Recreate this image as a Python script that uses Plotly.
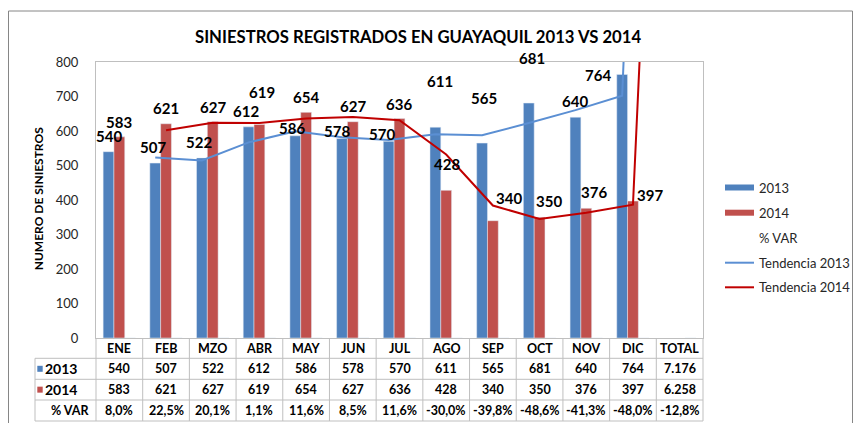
import plotly.graph_objects as go
import numpy as np

# ---------------- data ----------------
months = ["ENE", "FEB", "MZO", "ABR", "MAY", "JUN", "JUL", "AGO", "SEP", "OCT", "NOV", "DIC"]
total_label = "TOTAL"
v2013 = [540, 507, 522, 612, 586, 578, 570, 611, 565, 681, 640, 764]
v2014 = [583, 621, 627, 619, 654, 627, 636, 428, 340, 350, 376, 397]
total_2013 = 7176
total_2014 = 6258
var_pct = [8.0, 22.5, 20.1, 1.1, 11.6, 8.5, 11.6, -30.0, -39.8, -48.6, -41.3, -48.0]
total_var = -12.8
# trend lines (last point is off the top, at TOTAL)
trend2013 = [None, 523.5, 514.5, 567, 599, 582, 574, 590.5, 588, 623, 660.5, 702, 3970]
trend2014 = [None, 602, 624, 623, 636.5, 640.5, 631.5, 532, 384, 345, 363, 386.5, 3327.5]

# ---------------- layout constants ----------------
FONT = "Lato"
BLUE = "#4F81BD"
RED = "#C0504D"
TBLUE = "#5B8FD3"
TRED = "#C00000"
GRID = "#BFBFBF"
FW, FH = 854, 423
# plot area in page pixels
L, R, T, B = 96, 703, 62, 338
W, H = R - L, B - T
NCAT = len(months) + 1
BARGAP = 0.306
BW = (1 - BARGAP) / 3


def px(x):
    return (x - L) / W


def py(y):
    return (B - y) / H


xm = np.arange(len(months))

fig = go.Figure()
fig.add_trace(go.Bar(x=xm, y=v2013, marker_color=BLUE, showlegend=False, hoverinfo="skip"))
fig.add_trace(go.Bar(x=xm, y=v2014, marker_color=RED, showlegend=False, hoverinfo="skip"))
fig.add_trace(go.Bar(x=np.arange(NCAT), y=[v / 100 for v in var_pct] + [total_var / 100],
                     marker_color="rgba(0,0,0,0)", showlegend=False, hoverinfo="skip"))
fig.add_trace(go.Scatter(x=np.arange(NCAT) - BW, y=trend2013, mode="lines",
                         line=dict(color=TBLUE, width=2), showlegend=False, hoverinfo="skip"))
fig.add_trace(go.Scatter(x=np.arange(NCAT), y=trend2014, mode="lines",
                         line=dict(color=TRED, width=2), showlegend=False, hoverinfo="skip"))

ann = []
shapes = []

# data labels (pixel offsets from bar top)
blue_dx = [0, -2, -3, -2.5, -3, -5, -7, 5, 2, 3.5, 0, -24]
blue_dy = [15.7, 15.6, 16, 15.7, 7.7, 7.5, 7, 46, 45, 45, 16, -1]
red_dx = [0, 0, 0, 3, 0, 0, -1, 1, 16, 9, 8, 17]
red_dy = [14.8, 15.6, 15, 32, 15, 15.5, 15, 26, 23, 16.7, 16.7, 6]
for i in range(len(months)):
    ann.append(dict(x=i - BW, y=v2013[i], xref="x", yref="y", text=str(v2013[i]), showarrow=False,
                    xshift=blue_dx[i], yshift=blue_dy[i], xanchor="center", yanchor="middle",
                    font=dict(family=FONT, size=15, color="#000000", weight="bold")))
    ann.append(dict(x=i, y=v2014[i], xref="x", yref="y", text=str(v2014[i]), showarrow=False,
                    xshift=red_dx[i], yshift=red_dy[i], xanchor="center", yanchor="middle",
                    font=dict(family=FONT, size=15, color="#000000", weight="bold")))

# title
ann.append(dict(x=px(417.5), y=py(37), xref="paper", yref="paper", showarrow=False,
                text="SINIESTROS REGISTRADOS EN GUAYAQUIL 2013 VS 2014", xanchor="center", yanchor="middle",
                font=dict(family=FONT, size=16.7, color="#000000", weight="bold")))
# y-axis title
ann.append(dict(x=px(38.3), y=py(199), xref="paper", yref="paper", showarrow=False, textangle=-90,
                text="NUMERO DE SINIESTROS", xanchor="center", yanchor="middle",
                font=dict(family=FONT, size=12, color="#000000", weight="bold")))

# ---------------- data table ----------------
rows_y = [338, 358.3, 379.3, 400, 421]
cw = W / NCAT


def hline(x0, x1, y):
    shapes.append(dict(type="line", xref="paper", yref="paper", x0=px(x0), x1=px(x1), y0=py(y), y1=py(y),
                       line=dict(color=GRID, width=1)))


def vline(x, y0, y1):
    shapes.append(dict(type="line", xref="paper", yref="paper", x0=px(x), x1=px(x), y0=py(y0), y1=py(y1),
                       line=dict(color=GRID, width=1)))


for yy in rows_y[1:]:
    hline(35, R, yy)
for k in range(NCAT + 1):
    vline(L + k * cw, rows_y[0], rows_y[-1])
vline(35, rows_y[1], rows_y[-1])

header = months + [total_label]
row2013 = [str(v) for v in v2013] + ["{:,}".format(total_2013).replace(",", ".")]
row2014 = [str(v) for v in v2014] + ["{:,}".format(total_2014).replace(",", ".")]
rowvar = [("%.1f%%" % v).replace(".", ",") for v in var_pct] + [("%.1f%%" % total_var).replace(".", ",")]
for r, vals in enumerate([header, row2013, row2014, rowvar]):
    yc = (rows_y[r] + rows_y[r + 1]) / 2
    for k, t in enumerate(vals):
        ann.append(dict(x=px(L + (k + 0.5) * cw), y=py(yc), xref="paper", yref="paper", showarrow=False,
                        text=t, xanchor="center", yanchor="middle",
                        font=dict(family=FONT, size=12.5, color="#000000", weight="bold")))

# row headers
for r, (lab, col) in enumerate([("2013", BLUE), ("2014", RED)]):
    yc = (rows_y[r + 1] + rows_y[r + 2]) / 2
    shapes.append(dict(type="rect", xref="paper", yref="paper", x0=px(37.3), x1=px(42.7),
                       y0=py(yc + 3), y1=py(yc - 3), fillcolor=col, line=dict(width=0)))
    ann.append(dict(x=px(43.5), y=py(yc), xref="paper", yref="paper", showarrow=False, text=lab,
                    xanchor="left", yanchor="middle",
                    font=dict(family=FONT, size=14, color="#000000", weight="bold")))
yc = (rows_y[3] + rows_y[4]) / 2
ann.append(dict(x=px(91), y=py(yc), xref="paper", yref="paper", showarrow=False, text="% VAR",
                xanchor="right", yanchor="middle",
                font=dict(family=FONT, size=12.5, color="#000000", weight="bold")))

# ---------------- legend ----------------
LEG_TXT = "#262626"
leg = [("2013", "bar", BLUE, 187.5), ("2014", "bar", RED, 212.7), ("% VAR", None, None, 238.3),
       ("Tendencia 2013", "line", TBLUE, 262.7), ("Tendencia 2014", "line", TRED, 287.3)]
for lab, kind, col, yy in leg:
    if kind == "bar":
        shapes.append(dict(type="rect", xref="paper", yref="paper", x0=px(725), x1=px(754),
                           y0=py(yy + 3), y1=py(yy - 3), fillcolor=col, line=dict(width=0)))
    elif kind == "line":
        shapes.append(dict(type="line", xref="paper", yref="paper", x0=px(725), x1=px(754),
                           y0=py(yy), y1=py(yy), line=dict(color=col, width=2)))
    ann.append(dict(x=px(757), y=py(yy), xref="paper", yref="paper", showarrow=False, text=lab,
                    xanchor="left", yanchor="middle", font=dict(family=FONT, size=13, color=LEG_TXT)))

# outer chart border
shapes.append(dict(type="rect", xref="paper", yref="paper", x0=px(8.5), x1=px(852.5), y0=py(11), y1=py(440),
                   line=dict(color="#868686", width=1), layer="below"))

fig.update_layout(
    width=FW, height=FH,
    margin=dict(l=L, r=FW - R, t=T, b=FH - B, pad=0),
    paper_bgcolor="white", plot_bgcolor="white",
    barmode="group", bargap=BARGAP, bargroupgap=0,
    showlegend=False,
    xaxis=dict(range=[-0.5, NCAT - 0.5], showticklabels=False, showgrid=False, zeroline=False,
               showline=True, mirror=True, linecolor=GRID, linewidth=1, ticks=""),
    yaxis=dict(range=[0, 800], dtick=100, showgrid=False, zeroline=False,
               showline=True, mirror=True, linecolor=GRID, linewidth=1, ticks="",
               ticklabelstandoff=14, tickfont=dict(family=FONT, size=13, color="#262626")),
    annotations=ann, shapes=shapes,
)

# place the figure at the page origin (no default body margin / scrollbars)
fig.write_html("out.html", config={"displayModeBar": False},
               post_script="document.body.style.margin='0';document.body.style.overflow='hidden';")
